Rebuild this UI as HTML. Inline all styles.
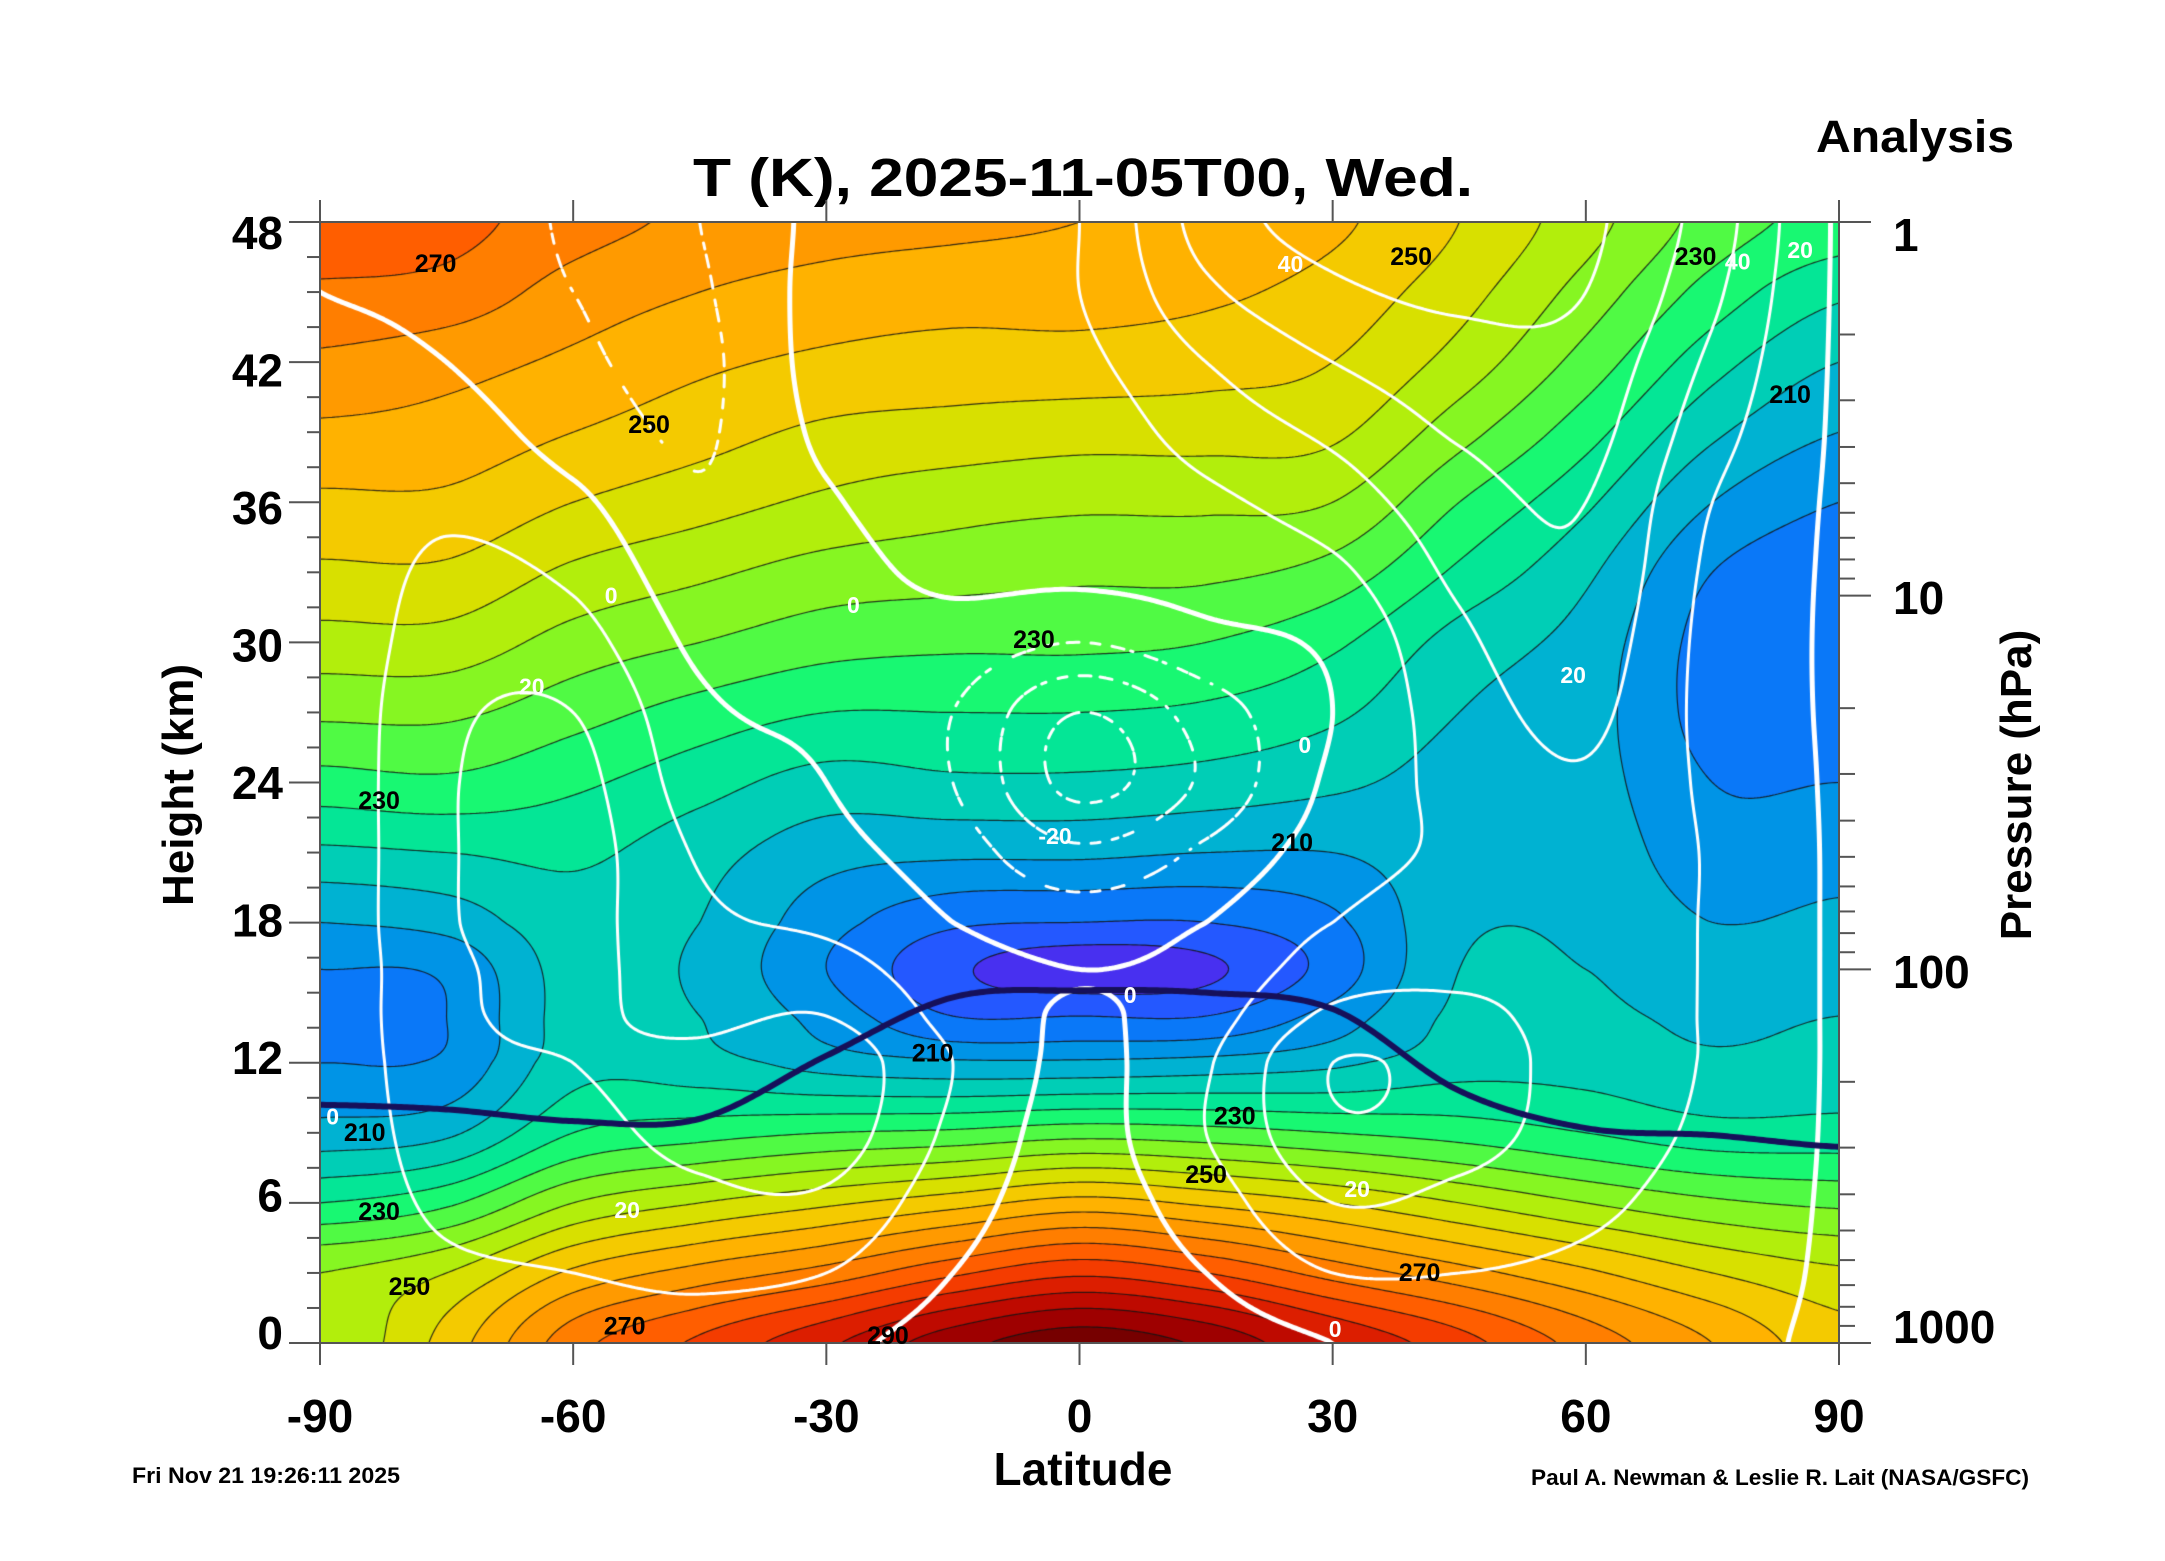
<!DOCTYPE html>
<html><head><meta charset="utf-8">
<style>
html,body{margin:0;padding:0;background:#fff;}
#wrap{position:relative;width:2165px;height:1561px;overflow:hidden;background:#fff;font-family:"Liberation Sans",sans-serif;}
#field{position:absolute;left:320px;top:222px;}
#ov{position:absolute;left:0;top:0;}
</style></head>
<body>
<div id="wrap">
<canvas id="field" width="1519" height="1121"></canvas>
<svg id="ov" width="2165" height="1561">
<text x="1083" y="196" font-size="54" font-weight="bold" text-anchor="middle" textLength="780" lengthAdjust="spacingAndGlyphs">T (K), 2025-11-05T00, Wed.</text>
<text x="1915" y="152" font-size="45" font-weight="bold" text-anchor="middle" textLength="198" lengthAdjust="spacingAndGlyphs">Analysis</text>
<text x="193" y="785" font-size="44" font-weight="bold" text-anchor="middle" transform="rotate(-90 193 785)">Height (km)</text>
<text x="2031" y="785" font-size="44" font-weight="bold" text-anchor="middle" transform="rotate(-90 2031 785)">Pressure (hPa)</text>
<text x="1083" y="1485" font-size="46" font-weight="bold" text-anchor="middle">Latitude</text>
<text x="132" y="1483" font-size="22" font-weight="bold" textLength="268" lengthAdjust="spacingAndGlyphs">Fri Nov 21 19:26:11 2025</text>
<text x="2029" y="1485" font-size="22" font-weight="bold" text-anchor="end" textLength="498" lengthAdjust="spacingAndGlyphs">Paul A. Newman &amp; Leslie R. Lait (NASA/GSFC)</text>
<g id="axes"></g>
<g id="labels"></g>
</svg>
</div>
<script>
const lats=[-90,-75,-60,-45,-30,-15,0,15,30,45,60,75,90];
const heights=[0,3,6,9,12,14,16,18,21,24,27,30,33,36,39,42,45,48];
// temperature (K) per latitude column
const t_s90=[240,240,225,212,205,203,205,210,219,228,236,243,249,254,259,264,269,274];
const t_s75=[252,245,229,214,206,205,206,212,220,229,236,243,249,254,258,262,268,272];
const t_s60=[268,256,240,225,218,217,217,218,221,226,232,238,244,250,255,259,263,267];
const t_s45=[276,262,245,228,217,215,214,215,217,222,228,235,241,247,252,256,260,264];
const t_s30=[284,267,249,230,213,208,205,207,212,218,225,232,238,244,249,254,258,262];
const t_s15=[293,274,253,231,211,200,196,201,211,219,225,231,237,242,248,253,257,261];
const t_eq=[298,279,257,233,211,200,192,200,211,219,225,231,236,241,247,253,257,260];
const t_n15=[294,275,254,232,212,200,194,200,210,218,224,230,236,241,247,252,256,259];
const t_n30=[285,268,250,230,214,207,202,204,210,216,221,226,233,240,246,250,253,256];
const t_n45=[277,262,245,228,218,216,215,214,213,213,215,218,224,230,237,243,247,250];
const t_n60=[268,256,240,225,218,216,215,214,213,212,212,213,216,221,227,233,238,242];
const t_n75=[260,250,236,222,216,214,212,210,207,205,203,203,205,210,216,222,228,233];
const t_n90=[252,246,234,222,217,215,213,211,208,205,202,201,202,205,210,215,221,228];
// zonal wind (m/s) per latitude column
const u_s90=[2,3,3,3,3,3,3,3,3,3,3,3,3,3,2,1,0,-1];
const u_s75=[3,8,12,15,17,18,18,19,19,19,18,15,12,8,4,0,-2,-3];
const u_s60=[5,10,15,18,20,21,22,23,24,23,20,14,8,2,-4,-8,-10,-11];
const u_s45=[6,12,18,22,22,18,15,12,9,5,2,-2,-6,-9,-11,-12,-11,-10];
const u_s30=[2,10,18,25,26,20,14,8,3,0,-2,-3,-3,-1,2,4,4,3];
const u_s15=[-3,0,4,8,10,7,4,0,-5,-10,-10,-4,2,5,7,8,8,7];
const u_eq=[-6,-5,-4,-3,-2,-1,0,-5,-18,-33,-30,-10,2,3,5,8,10,10];
const u_n15=[-4,0,5,10,9,6,3,0,-8,-18,-15,-3,4,8,14,20,28,34];
const u_n30=[0,10,20,28,30,22,15,10,5,2,0,2,8,15,22,30,38,44];
const u_n45=[5,10,17,24,25,22,18,15,12,13,15,18,22,26,31,36,42,46];
const u_n60=[5,8,12,15,16,16,16,16,17,19,22,25,28,30,33,36,40,42];
const u_n75=[2,4,6,8,9,9,9,9,9,8,7,7,8,10,14,18,22,25];
const u_n90=[-1,-1,-1,-1,-1,-1,-1,-1,-1,-1,-1,-1,-1,-1,-1,-1,-1,-1];
// tropopause height (km) per latitude
const tropopause=[10.2,10.0,9.5,9.6,12.3,14.8,15.1,15.0,14.3,10.8,9.2,8.9,8.4];
const latTicks=[-90,-60,-30,0,30,60,90];
const heightTicks=[0,6,12,18,24,30,36,42,48];
const pressTicks=[1,10,100,1000];
const tLabelVals=[270,250,230,210,230,210,230,250,270,290,210,230,250,270,250,230,210];
const tLabelLat=[-76.3,-51,-5.4,25.2,-83,-84.7,-83,-79.4,-53.9,-22.7,-17.4,18.4,15,40.3,39.3,73,84.2];
const tLabelZ=[46.2,39.3,30.1,21.4,23.2,9.0,5.6,2.4,0.7,0.3,12.4,9.7,7.2,3.0,46.5,46.5,40.6];
const uLabelVals=["0","0","20","0","-20","40","40","20","20","0","20","20","0","0"];
const uLabelLat=[-55.5,-26.8,-64.9,26.7,-2.9,25,78,85.4,58.5,6,-53.6,32.9,30.3,-88.5];
const uLabelZ=[32,31.6,28.1,25.6,21.7,46.2,46.3,46.8,28.6,14.9,5.7,6.6,0.6,9.7];

const TG=[t_s90,t_s75,t_s60,t_s45,t_s30,t_s15,t_eq,t_n15,t_n30,t_n45,t_n60,t_n75,t_n90];
const UG=[u_s90,u_s75,u_s60,u_s45,u_s30,u_s15,u_eq,u_n15,u_n30,u_n45,u_n60,u_n75,u_n90];
const W=1519,H=1121,X0=320,Y0=222,KM=H/48;
const xOf=lat=>X0+(lat+90)/180*W;
const yOf=z=>Y0+H-z*KM;
const colors=['#4830f0','#2458ff','#0a78f8','#0094e6','#00b2d2','#00ceb6','#04e696','#18f872','#50fa44','#86f622','#b2ee0c','#d8e000','#f4ca00','#ffb200','#ff9a00','#ff7e00','#ff5e00','#f43c00','#dc1e00','#be0a00','#9e0000','#760000'];
function idx(arr,v){let i=0;while(i<arr.length-2&&v>arr[i+1])i++;return [i,Math.max(0,Math.min(1,(v-arr[i])/(arr[i+1]-arr[i])))];}
const latIdx=lat=>idx(lats,lat), zIdx=z=>idx(heights,z);
function cr(p0,p1,p2,p3,t){return p1+0.5*t*(p2-p0+t*(2*p0-5*p1+4*p2-p3+t*(3*(p1-p2)+p3-p0)));}
function interp(G,li,zi){const [i,fx]=li,[j,fz]=zi;const nI=G.length-1,nJ=G[0].length-1;
 const r=[];for(let dj=-1;dj<=2;dj++){const jj=Math.max(0,Math.min(nJ,j+dj));
  r.push(cr(G[Math.max(0,i-1)][jj],G[i][jj],G[i+1][jj],G[Math.min(nI,i+2)][jj],fx));}
 return cr(r[0],r[1],r[2],r[3],fz);}
const cv=document.getElementById('field');const ctx=cv.getContext('2d');
const colLi=[];for(let px=0;px<W;px++)colLi.push(latIdx((px+0.5)/W*180-90));
const rowZi=[];for(let py=0;py<H;py++)rowZi.push(zIdx((H-py-0.5)/KM));
const rgb=colors.map(c=>[parseInt(c.substr(1,2),16),parseInt(c.substr(3,2),16),parseInt(c.substr(5,2),16)]);
const img=ctx.createImageData(W,H);
for(let py=0;py<H;py++){for(let px=0;px<W;px++){
 const T=interp(TG,colLi[px],rowZi[py]);let k=Math.floor((T-190)/5);k=Math.max(0,Math.min(colors.length-1,k));
 const o=(py*W+px)*4;img.data[o]=rgb[k][0];img.data[o+1]=rgb[k][1];img.data[o+2]=rgb[k][2];img.data[o+3]=255;}}
ctx.putImageData(img,0,0);
const S=3,NX=Math.ceil(W/S)+1,NY=Math.ceil(H/S)+1;
function grid(G){const a=new Float32Array(NX*NY);for(let j=0;j<NY;j++){const zi=zIdx(Math.max(0,(H-j*S)/KM));for(let i=0;i<NX;i++){a[j*NX+i]=interp(G,latIdx(Math.min(90,i*S/W*180-90)),zi);}}return a;}
const gT=grid(TG),gU=grid(UG);
function contour(g,L,dashed){
 for(let j=0;j<NY-1;j++)for(let i=0;i<NX-1;i++){
  const a=g[j*NX+i],b=g[j*NX+i+1],c=g[(j+1)*NX+i+1],d=g[(j+1)*NX+i];
  const p=[];const x=i*S,y=j*S;
  if((a>=L)!==(b>=L))p.push([x+S*(L-a)/(b-a),y]);
  if((b>=L)!==(c>=L))p.push([x+S,y+S*(L-b)/(c-b)]);
  if((d>=L)!==(c>=L))p.push([x+S*(L-d)/(c-d),y+S]);
  if((a>=L)!==(d>=L))p.push([x,y+S*(L-a)/(d-a)]);
  for(let k=0;k+1<p.length;k+=2){
   if(dashed){const mx=(p[k][0]+p[k+1][0])/2,my=(p[k][1]+p[k+1][1])/2;if((Math.floor(mx/11)+Math.floor(my/11))%2)continue;}
   ctx.moveTo(p[k][0],p[k][1]);ctx.lineTo(p[k+1][0],p[k+1][1]);}
 }}
ctx.strokeStyle='rgba(20,20,20,0.85)';ctx.lineWidth=1.2;ctx.beginPath();
for(let L=195;L<=300;L+=5)contour(gT,L,false);ctx.stroke();
ctx.strokeStyle='#fff';ctx.lineCap='round';
for(let L=-40;L<=50;L+=10){ctx.lineWidth=(L===0)?5:3;ctx.beginPath();contour(gU,L,L<0);ctx.stroke();}
// tropopause
ctx.strokeStyle='#16105a';ctx.lineWidth=6;ctx.beginPath();
for(let px=0;px<=W;px+=3){const [i,f]=latIdx(px/W*180-90);const n=tropopause.length-1;
 const z=cr(tropopause[Math.max(0,i-1)],tropopause[i],tropopause[i+1],tropopause[Math.min(n,i+2)],f);const y=H-z*KM;if(px===0)ctx.moveTo(px,y);else ctx.lineTo(px,y);}
ctx.stroke();
const NS='http://www.w3.org/2000/svg';
const axes=document.getElementById('axes');
function line(x1,y1,x2,y2,name,w){const l=document.createElementNS(NS,'line');l.setAttribute('x1',x1);l.setAttribute('y1',y1);l.setAttribute('x2',x2);l.setAttribute('y2',y2);l.setAttribute('stroke','#555');l.setAttribute('stroke-width',w||2);
 
 
 axes.appendChild(l);}
function text(parent,x,y,s,size,fill,name,anchor){const t=document.createElementNS(NS,'text');t.setAttribute('x',x);t.setAttribute('y',y);t.setAttribute('font-size',size);t.setAttribute('font-weight','bold');t.setAttribute('fill',fill);t.setAttribute('text-anchor',anchor||'middle');t.setAttribute('dominant-baseline','central');t.textContent=s;
 
 
 parent.appendChild(t);return t;}
line(X0,200,X0,Y0+H+22,'left-axis-line');line(X0+W,200,X0+W,Y0+H+22,'right-axis-line');
line(X0,Y0,X0+W,Y0,'top-axis-line');line(X0,Y0+H,X0+W,Y0+H,'bottom-axis-line');
latTicks.forEach(v=>{const x=xOf(v);line(x,200,x,Y0,'top-tick');line(x,Y0+H,x,Y0+H+22,'bottom-tick');text(axes,x,1416,String(v),46,'#000','x-tick-label');});
for(let z=0;z<=48;z+=1.5){const y=yOf(z);const maj=(z%6===0);line(maj?289:307,y,X0,y,maj?'y-major-tick':'y-minor-tick');}
heightTicks.forEach(z=>{const y=233+(48-z)/48*1100;text(axes,283,y,String(z),46,'#000','y-tick-label','end');});
const PX=H/3;
for(let d=0;d<3;d++)for(let m=1;m<=9;m++){const p=Math.pow(10,d)*m;const y=Y0+Math.log10(p)*PX;line(X0+W,y,X0+W+(m===1?32:16),y,m===1?'p-major-tick':'p-minor-tick');}
line(X0+W,Y0+H,X0+W+32,Y0+H,'p-major-tick');
const pLabY=[235,598,972,1327];
pressTicks.forEach((p,k)=>{text(axes,1893,pLabY[k],String(p),46,'#000','y2-tick-label','start');});
const lab=document.getElementById('labels');
tLabelVals.forEach((v,k)=>{text(lab,xOf(tLabelLat[k]),yOf(tLabelZ[k]),String(v),25,'#000','temperature-contour-label');});
uLabelVals.forEach((v,k)=>{text(lab,xOf(uLabelLat[k]),yOf(uLabelZ[k]),v,23,'#fff','wind-contour-label');});
</script>
</body></html>
